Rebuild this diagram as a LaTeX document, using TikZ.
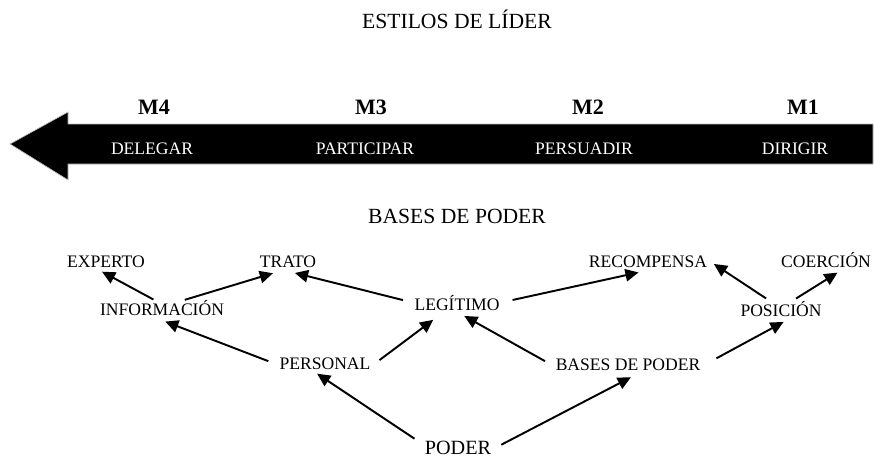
\documentclass[tikz,border=0pt]{standalone}
\usepackage{fontspec}
\setmainfont{Liberation Serif}
\usetikzlibrary{arrows.meta}

\begin{document}
\begin{tikzpicture}[x=0.02cm, y=-0.02cm,
  base/.style={font=\fontsize{10}{12}\selectfont, text height=6.6pt, text depth=0pt, inner sep=2pt},
  title/.style={font=\fontsize{12.3}{14}\selectfont, text height=8.1pt, text depth=0pt},
  mlabel/.style={font=\fontsize{12.5}{14}\selectfont\bfseries},
  inarrow/.style={base, text=white},
  link/.style={line width=1.1pt, -{Triangle[length=7.5pt,width=7pt]}}]

\useasboundingbox (0,0) rectangle (874,457);

% \draw[step=50, gray, very thin] (0,0) grid (874,457);

% flecha de estilos
\fill[black, draw=gray!50] (873,124) -- (68,124) -- (68,112) -- (10,144) -- (68,180) -- (68,164) -- (873,164) -- cycle;

\node[title] (estilos) at (457,21) {ESTILOS DE LÍDER};
\foreach \m/\x/\t/\tx in {4/154/DELEGAR/152, 3/371/PARTICIPAR/365, 2/588/PERSUADIR/584, 1/803/DIRIGIR/795}
{
    \node[mlabel] (m\m) at (\x,107) {M\m};
    \node[inarrow] (e\m) at (\tx,149) {\t};
}

\node[title] (bases-titulo) at (457,216) {BASES DE PODER};

% bases de poder
\node[base] (experto) at (106,262) {EXPERTO};
\node[base] (trato) at (288,262) {TRATO};
\node[base] (recomp) at (648,262) {RECOMPENSA};
\node[base] (coer) at (826,262) {COERCIÓN};
\node[base] (info) at (162,310) {INFORMACIÓN};
\node[base] (leg) at (457,305) {LEGÍTIMO};
\node[base] (pos) at (781,311) {POSICIÓN};
\node[base] (personal) at (325,364) {PERSONAL};
\node[base] (bases) at (628,365) {BASES DE PODER};
\node[base, font=\fontsize{11.5}{13}\selectfont, text height=7.6pt] (poder) at (458,448) {PODER};

\draw[link, shorten <=1pt] ([xshift=-4pt]info.north) -- ([xshift=-2.3pt]experto.south);
\draw[link, shorten <=1pt, shorten >=3pt] ([xshift=12pt]info.north) -- ([xshift=-5.7pt]trato.south);
\draw[link, shorten <=4.5pt, shorten >=3pt] ([yshift=1.7pt]leg.west) -- ([xshift=1pt]trato.south);
\draw[link, shorten <=4.5pt, shorten >=3pt] (personal.west) -- ([xshift=-1pt]info.south);
\draw[link, shorten <=3.7pt, shorten >=4.9pt] (personal.east) -- ([xshift=-9.6pt]leg.south);
\draw[link, shorten <=4.5pt] ([yshift=2.8pt]poder.west) -- ([xshift=-4.5pt]personal.south);
\draw[link, shorten <=5.4pt, shorten >=2pt] ([yshift=1.7pt]leg.east) -- ([xshift=-3.4pt]recomp.south);
\draw[link, shorten <=4.5pt, shorten >=1.5pt] (bases.west) -- ([xshift=2.8pt]leg.south);
\draw[link, shorten <=8pt, shorten >=1.5pt] (bases.east) -- ([xshift=2.8pt]pos.south);
\draw[link, shorten <=4pt, shorten >=3.2pt] (poder.east) -- ([xshift=4.5pt]bases.south);
\draw[link, shorten <=3pt, shorten >=2pt] ([xshift=-6pt]pos.north) -- (recomp.east);
\draw[link, shorten <=3pt, shorten >=1pt] ([xshift=6pt]pos.north) -- ([xshift=7.4pt]coer.south);

\end{tikzpicture}
\end{document}
